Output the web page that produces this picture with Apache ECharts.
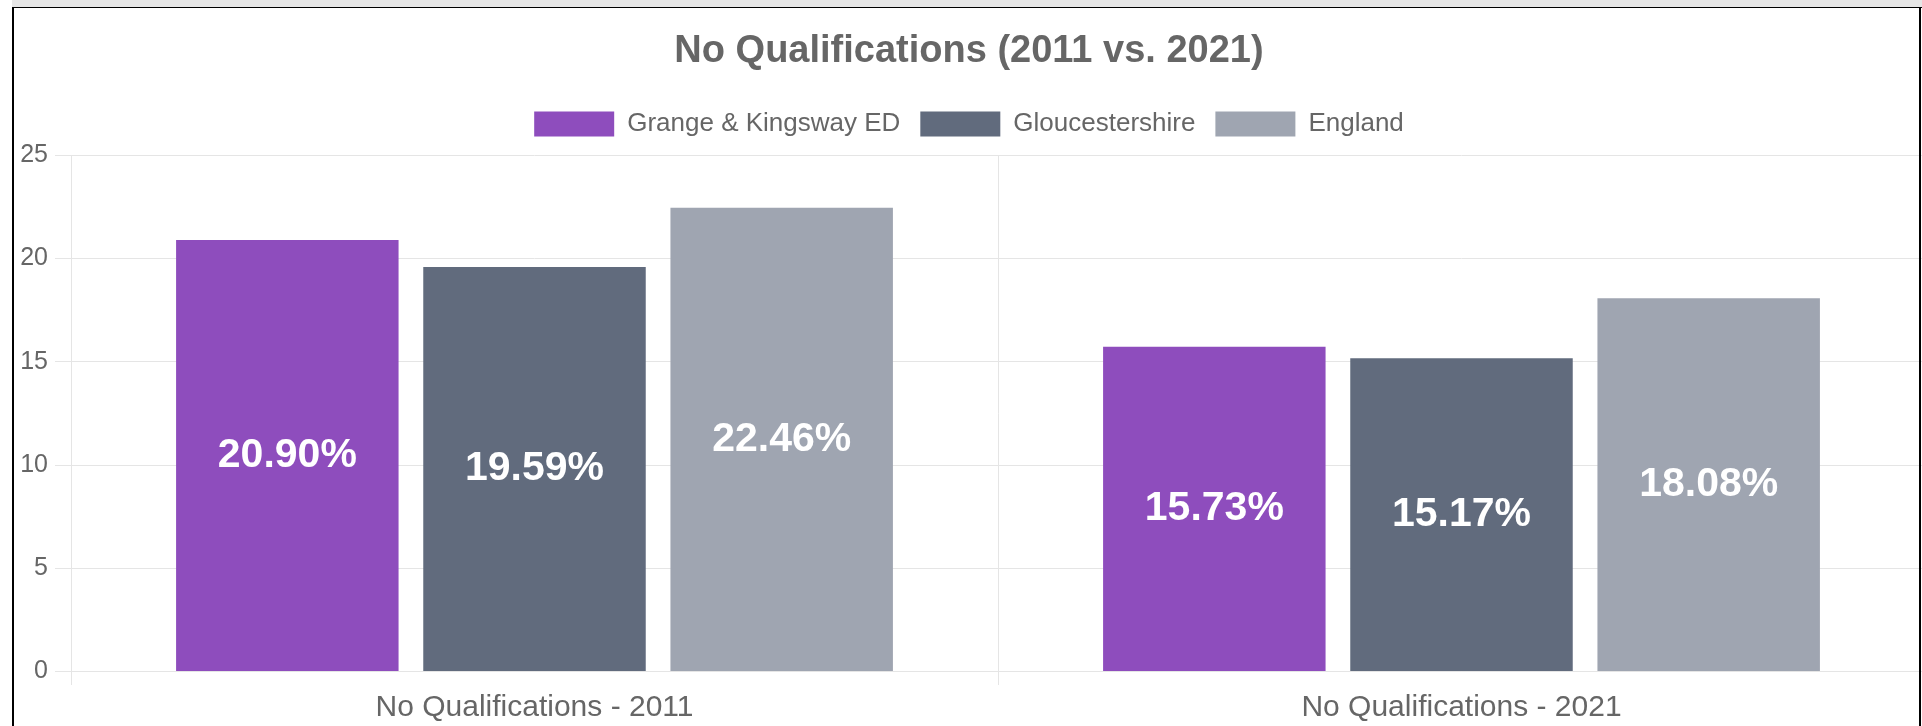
<!DOCTYPE html>
<html>
<head>
<meta charset="utf-8">
<script src="https://cdn.jsdelivr.net/npm/echarts@6/dist/echarts.min.js"></script>
<style>
  html, body { margin: 0; padding: 0; background: #fff; overflow: hidden; }
  body { width: 1922px; height: 726px; position: relative; }
  #band { position: absolute; left: 12px; top: 0; width: 1910px; height: 7px; background: #e6e6e6; }
  #map { position: absolute; left: 13px; top: 8px; width: 1912px; height: 718px; }
  .edge { position: absolute; background: #000; z-index: 5; }
</style>
</head>
<body>
<div id="band"></div>
<div id="map"></div>
<div class="edge" style="left:12px;top:7px;width:1910px;height:1px;"></div>
<div class="edge" style="left:12px;top:7px;width:2px;height:719px;"></div>
<div class="edge" style="left:1919px;top:7px;width:2px;height:719px;"></div>
<script>
// 数据
let categories = ['No Qualifications - 2011', 'No Qualifications - 2021'];
let seriesNames = ['Grange & Kingsway ED', 'Gloucestershire', 'England'];
let grangeValues = [20.90, 15.73];
let gloucValues = [19.59, 15.17];
let englandValues = [22.46, 18.08];
let yTicks = [0, 5, 10, 15, 20, 25];

let colors = ['#8e4dbd', '#616b7d', '#9fa5b1'];
let fontName = "'Liberation Sans', Arial, sans-serif";
let gridColor = '#e5e5e5';

function makeSeries(name, values, color) {
    return {
        type: 'bar',
        name: name,
        data: values,
        barWidth: '24%',
        barGap: '11.1%',
        itemStyle: { color: color },
        label: {
            show: true,
            position: 'inside',
            color: '#fff',
            fontFamily: fontName,
            fontWeight: 'bold',
            fontSize: 41,
            formatter: function (p) {
                return p.value.toFixed(2) + '%';
            }
        }
    };
}

let option = {
    animation: false,
    backgroundColor: 'transparent',
    color: colors,
    title: {
        text: 'No Qualifications (2011 vs. 2021)',
        left: 'center',
        top: 25,
        padding: 0,
        textStyle: {
            fontFamily: fontName,
            fontWeight: 'bold',
            fontSize: 38,
            color: '#666'
        }
    },
    legend: {
        top: 103,
        left: 'center',
        padding: 0,
        icon: 'rect',
        itemWidth: 80,
        itemHeight: 25,
        itemGap: 20,
        data: seriesNames,
        textStyle: {
            fontFamily: fontName,
            fontSize: 26,
            color: '#666',
            padding: [0, 0, 0, 8]
        }
    },
    grid: {
        left: 58,
        right: 0,
        top: 147.5,
        bottom: 55
    },
    xAxis: {
        type: 'category',
        data: categories,
        axisLine: { lineStyle: { color: gridColor } },
        axisTick: { show: true, length: 14, lineStyle: { color: gridColor } },
        splitLine: { show: true, lineStyle: { color: gridColor } },
        axisLabel: {
            margin: 22,
            fontFamily: fontName,
            fontSize: 30,
            color: '#666'
        }
    },
    yAxis: {
        type: 'value',
        min: yTicks[0],
        max: yTicks[yTicks.length - 1],
        interval: yTicks[1] - yTicks[0],
        axisLine: { show: true, lineStyle: { color: gridColor } },
        axisTick: { show: true, length: 16, lineStyle: { color: gridColor } },
        splitLine: { show: true, lineStyle: { color: gridColor } },
        axisLabel: {
            margin: 23,
            fontFamily: fontName,
            fontSize: 25,
            color: '#666'
        }
    },
    series: [
        makeSeries(seriesNames[0], grangeValues, colors[0]),
        makeSeries(seriesNames[1], gloucValues, colors[1]),
        makeSeries(seriesNames[2], englandValues, colors[2])
    ]
};

var dom = document.getElementById('map');
var myChart = echarts.init(dom);
myChart.setOption(option, true);
</script>
</body>
</html>
